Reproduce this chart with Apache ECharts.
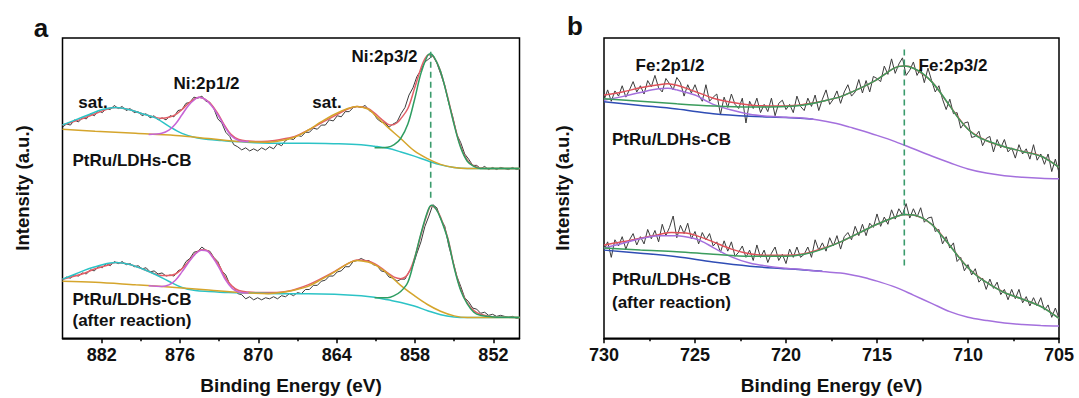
<!DOCTYPE html>
<html><head><meta charset="utf-8">
<script src="https://cdn.jsdelivr.net/npm/echarts@6/dist/echarts.min.js"></script>
<style>html,body{margin:0;padding:0;background:#fff}#c{width:1079px;height:398px}</style>
</head><body><div id="c"></div>
<script>
// ---------- axis ticks ----------
const aMajorTicks = [882, 876, 870, 864, 858, 852];
const aMinorTicks = [879, 873, 867, 861, 855];
const bMajorTicks = [730, 725, 720, 715, 710, 705];
const bMinorTicks = [727.5, 722.5, 717.5, 712.5, 707.5];

// ---------- panel a (Ni 2p) raw spectra: sampled from 885 eV downward every 0.305 eV ----------
const aRawStart = 885, aRawStep = 0.305;
const aUpRaw = [
210,213,212,217,215,219,218,223,221,226,
224,228,227,231,228,230,226,228,224,225,
221,223,219,221,217,219,217,221,220,226,
227,233,234,239,238,240,235,234,228,218,
214,205,201,193,191,188,190,187,189,187,
190,188,191,189,194,192,197,199,198,202,
201,205,205,209,208,212,212,217,216,221,
220,225,225,229,230,229,231,226,224,218,
215,214,210,213,215,223,229,241,248,259,
265,273,276,279,272,261,250,233,220,203,
195,184,179,173,173,170,172,169,171,169,
171,170,169,171,169,170];
const aLoRaw = [
62,65,64,67,66,69,68,72,71,75,
74,78,76,80,78,80,77,78,75,76,
73,74,70,71,68,69,66,67,66,71,
73,80,83,89,90,94,91,90,84,80,
71,67,58,55,49,48,44,46,43,45,
43,45,44,46,44,47,46,49,47,50,
49,53,53,57,57,61,62,66,66,70,
71,75,75,80,81,83,81,81,77,76,
71,70,65,64,61,63,63,70,76,88,
99,114,124,135,132,121,114,95,81,66,
56,45,41,35,34,30,31,28,29,27,
28,27,26,27,25,26];

// ---------- panel a fitted curves [energy, intensity] ----------
const aUpCyan = [[885,212],[884,217],[883,222],[881.95,227],[880.93,229],[879.92,227],[878.9,223],[877.89,219],[876.87,211],[875.85,204],[874.83,200],[873.82,198],[872.8,197],[871.79,196],[870.26,195],[868.23,194.5],[866.19,194.5],[864.16,194],[862.13,193],[861.11,191.5],[860.09,189.5],[859.08,186],[858.06,182],[857.04,177.5],[856.03,173.5],[855.01,171],[854,170],[851.96,170],[850,170]];
const aUpYellow = [[885,208],[882.5,206],[879.4,204],[876.35,202],[873.8,199],[871.3,196],[869.25,195.5],[868.25,197],[867.2,200.5],[866.2,207],[865.2,215],[864.15,222.5],[863.15,228],[862.45,230],[861.6,227.5],[861.1,222],[860.6,216],[860.1,210],[859.1,199],[858.05,187],[857.05,179.5],[856.05,174],[855,171],[854,170],[852,170],[850,170]];
const aUpMagenta = [[878.4,203],[877.4,204],[876.85,207],[876.35,213],[875.85,222],[875.35,231],[874.85,237],[874.55,239],[874.1,237],[873.6,231],[873.1,222],[872.6,211],[872.1,202],[871.5,197],[870.75,196]];
const aUpGreen = [[861.1,190],[860.1,190.5],[859.6,193],[859.1,199],[858.55,213],[858.05,236],[857.55,262],[857.05,279],[856.85,281],[856.55,278],[856.05,264],[855.5,238],[855,212],[854.5,190],[854,177],[853.5,172],[853,170],[852,170],[850,170]];
const aUpRed = [[885,212],[883.5,218],[882.5,223],[881.45,228],[880.95,229],[879.9,227],[878.9,223],[877.9,219.5],[877.4,218.5],[876.85,219.5],[876.35,222],[875.85,227],[875.35,233],[874.85,237.5],[874.55,239],[874.1,237],[873.6,232],[873.1,223],[872.6,212],[872.1,203],[871.5,198],[870.75,196.5],[869.75,196],[868.75,197],[867.7,199.5],[867.2,201],[866.2,207],[865.2,214],[864.15,221],[863.15,227.5],[862.45,230],[861.6,228],[861.1,223.5],[860.6,218],[860.1,213],[859.8,212],[859.4,214],[859.1,218],[858.55,228],[858.05,247],[857.55,267],[857.25,276],[856.95,280],[856.65,279],[856.35,273],[856.05,264],[855.5,239],[855,213],[854.5,191],[854,178],[853.5,172.5],[853,170.5],[852,170],[850,170]];

const aLoCyan = [[885,63],[884,68],[883,73],[881.95,77],[880.93,79],[879.92,77.5],[878.9,73],[877.89,67.5],[876.87,61],[875.85,55],[874.83,52],[873.82,51],[872.3,50],[870.26,49.5],[868.23,49],[866.19,49],[864.16,48.5],[862.13,47],[861.11,45.5],[860.09,43],[859.08,40.5],[858.06,37],[857.04,32.5],[856.03,28.5],[855.01,26.5],[854,26],[850,26]];
const aLoYellow = [[885,61],[882.5,60],[879.4,57.5],[876.35,55],[873.8,52.5],[871.3,50],[869.25,49],[868.25,50],[867.2,52.5],[866.2,56],[865.2,62.5],[864.15,70],[863.15,78],[862.45,81],[861.6,79.5],[861.1,77],[860.6,73],[860.1,68.5],[859.1,57],[858.05,47],[857.05,38.5],[856.05,32],[855,27.5],[854,26],[850,26]];
const aLoMagenta = [[878.4,56.5],[877.4,56],[876.85,57.5],[876.35,62],[875.85,70],[875.35,79],[874.85,87],[874.35,91],[873.9,90],[873.5,84],[873,74],[872.5,62],[872,54],[871.5,50.5],[870.75,49.5]];
const aLoGreen = [[861.1,45],[860.1,45],[859.6,47],[859.1,51],[858.55,60],[858.05,82],[857.55,107],[857.05,128],[856.75,134.5],[856.4,131],[856.05,122],[855.5,102],[855,74],[854.5,52],[854,39],[853.5,31],[853,28],[852,26.5],[850,26]];
const aLoRed = [[885,63],[883.5,68],[882.5,73],[881.45,77],[880.95,79],[879.9,77.5],[878.9,73],[877.9,68],[877.4,66.5],[876.85,66.5],[876.35,68],[875.85,73],[875.35,80],[874.85,87.5],[874.35,91.5],[873.9,90.5],[873.5,85],[873,76],[872.5,64],[872,56],[871.5,52],[870.75,50.5],[869.75,50],[868.75,50],[867.7,51.5],[867.2,53],[866.2,57.5],[865.2,63.5],[864.15,70.5],[863.15,78],[862.45,81.5],[861.6,80.5],[861.1,78],[860.6,74],[860.1,69],[859.6,65],[859.1,63.5],[858.55,68],[858.05,83],[857.55,106],[857.05,127],[856.75,134],[856.4,131],[856.05,123],[855.5,103],[855,75],[854.5,53],[854,40],[853.5,32.5],[853,29],[852,26.5],[850,26]];
const aPeakLine = [[856.8,283],[856.8,139]];

// ---------- panel b (Fe 2p) raw spectra: sampled from 730 eV downward every 0.2 eV ----------
const bRawStart = 730, bRawStep = 0.2;
const bUpRaw = [
238,248,237,247,242,252,241,248,256,246,
252,244,257,251,262,250,246,259,254,248,
260,255,242,253,245,253,243,237,253,237,
241,244,224,241,231,244,234,230,240,216,
237,230,240,226,234,227,240,223,235,238,
229,234,226,242,232,228,240,232,243,228,
239,248,234,239,247,235,246,253,242,246,
258,245,257,246,261,259,256,271,263,278,
264,273,279,262,267,275,262,269,255,269,
257,246,252,239,229,239,225,226,211,216,
217,202,203,208,194,201,203,188,200,192,
200,188,192,182,195,186,191,181,195,180,
186,176,186,169,181,168];
const bLoRaw = [
93,101,86,103,97,106,94,103,109,98,
106,99,113,104,112,101,118,107,115,126,
105,117,109,119,104,111,99,110,103,109,
97,101,91,102,92,101,87,91,97,86,
93,83,98,86,93,81,90,96,83,89,
80,94,86,96,86,89,96,86,103,93,
100,92,105,97,107,94,106,110,103,116,
107,118,107,119,115,128,116,125,118,132,
123,133,127,138,124,133,125,134,120,124,
125,111,113,99,106,95,100,82,86,73,
79,69,75,62,66,55,65,56,62,50,
55,45,55,46,55,42,48,39,47,39,
47,35,40,28,37,27];

// ---------- panel b fitted curves ----------
const bUpGreen = [[730,239.5],[728,237],[726,234.5],[724,232.5],[722,231.5],[720,232],[719,233.5],[718,237],[717,241.5],[716,249],[715,258],[714.5,264],[714,269.5],[713.5,271],[713,269],[712.5,264],[712,256],[711.5,245],[711,232.5],[710.5,220],[710,210],[709.5,203],[709,199],[708,193],[707,188.5],[706,184],[705.5,179],[705,173]];
const bUpRed = [[730,243],[729,246],[728,250],[727,253],[726.5,254],[726,252.5],[725,246.5],[724,240],[723,236],[722,233.5],[721,232.5],[720,232.5],[719,234],[718,237],[717,241.5],[716,249],[715,258],[714,269.5],[713.5,271],[713,269],[712,256],[711,232.5],[710,210],[709,199],[708,193],[707,188.5],[706,184],[705,173]];
const bUpPurple = [[730,238],[729,241.5],[728,245.5],[727,249],[726.5,249.5],[726,248],[725,243],[724.5,238.5],[724,234],[723,228.5],[722,224.5],[721,222.5],[720,221.5],[719,220.5],[718.5,219.5],[718,218.2],[717.5,216.5],[717,214.5],[716.5,212],[716,209.5],[715,204],[714,198],[713,191],[712,184],[711,177.5],[710,171.5],[709,167.5],[708,165],[707,163.5],[706,162.5],[705,162]];
const bUpBlue = [[730,236.5],[728,233],[726,229.5],[724,225],[722,222.5],[720,221.3],[719,220.4],[718.5,219.5]];

const bLoGreen = [[730,95],[728,93],[726,91.5],[724,89],[722,87],[720,87],[719,89],[718,94],[717,101],[716,109.5],[715,118],[714,125],[713.5,127.5],[713,127],[712.5,124],[712,118],[711.5,108],[711,97.5],[710.5,86],[710,76],[709.5,68],[709,62],[708,52],[707,45.5],[706,38.5],[705.5,33],[705,27]];
const bLoRed = [[730,98],[729,101],[728,104.5],[727,108],[726.3,110],[725.5,109.5],[725,107.5],[724,101],[723,94],[722,89.5],[721,88],[720,88],[719,89.5],[718,94.5],[717,101],[716,109.5],[715,118],[714,125],[713.5,127.5],[713,127],[712,118],[711,97.5],[710,76],[709,62],[708,52],[707,45.5],[706,38.5],[705,27]];
const bLoPurple = [[730,95],[729,99.5],[728,104],[727,107],[726,107],[725,104],[724.5,100.5],[724,95.5],[723,86.5],[722,80.5],[721,77.5],[720,75.5],[719,74],[718,72.3],[717,70.8],[716.5,69.5],[716,67.8],[715.5,65.5],[715,63],[714,57.2],[713,49.5],[712,41.5],[711,33.5],[710,28],[709,25],[708,22.5],[707,21],[706,20],[705,19.5]];
const bLoBlue = [[730,93],[728,90],[726,86.5],[724,81.5],[722,77.5],[720,75],[719,73.8],[718,72.5]];
const bPeakLine = [[713.5,287],[713.5,76.5]];

// ---------- build ----------
function sampled(start, step, vals) { return vals.map((v, i) => [+(start - step * i).toFixed(3), v]); }

const FONT = "'Liberation Sans', Arial, sans-serif";
const RAW = '#3b3b3b';
function ln(data, color, xi, yi, opt) {
  opt = opt || {};
  return {
    type: 'line', data: data, xAxisIndex: xi, yAxisIndex: yi,
    showSymbol: false, symbol: 'none', smooth: opt.smooth === undefined ? 0.35 : opt.smooth,
    lineStyle: { color: color, width: opt.width || 1.5, type: opt.type || 'solid' },
    silent: true, animation: false, z: opt.z || 2
  };
}

const series = [
  ln(sampled(aRawStart, aRawStep, aUpRaw), RAW, 0, 0, { smooth: false, width: 1 }),
  ln(sampled(aRawStart, aRawStep, aLoRaw), RAW, 0, 0, { smooth: false, width: 1 }),
  ln(aUpRed, '#e35f68', 0, 0), ln(aLoRed, '#e35f68', 0, 0),
  ln(aUpCyan, '#2cc3c6', 0, 0), ln(aLoCyan, '#2cc3c6', 0, 0),
  ln(aUpYellow, '#d5a52c', 0, 0), ln(aLoYellow, '#d5a52c', 0, 0),
  ln(aUpMagenta, '#c765d6', 0, 0), ln(aLoMagenta, '#c765d6', 0, 0),
  ln(aUpGreen, '#2f9d62', 0, 0), ln(aLoGreen, '#2f9d62', 0, 0),
  ln(aPeakLine, '#3a9b6c', 0, 0, { smooth: false, type: [6, 4], width: 1.6 }),

  ln(sampled(bRawStart, bRawStep, bUpRaw), RAW, 2, 1, { smooth: false, width: 1 }),
  ln(sampled(bRawStart, bRawStep, bLoRaw), RAW, 2, 1, { smooth: false, width: 1 }),
  ln(bUpRed, '#e0515a', 2, 1), ln(bLoRed, '#e0515a', 2, 1),
  ln(bUpBlue, '#2f4db5', 2, 1), ln(bLoBlue, '#2f4db5', 2, 1),
  ln(bUpPurple, '#a470dd', 2, 1), ln(bLoPurple, '#a470dd', 2, 1),
  ln(bUpGreen, '#3b9c5d', 2, 1), ln(bLoGreen, '#3b9c5d', 2, 1),
  ln(bPeakLine, '#3a9b6c', 2, 1, { smooth: false, type: [6, 4], width: 1.6 })
];

function mainX(grid, min, max, majors) {
  return {
    type: 'value', gridIndex: grid, min: min, max: max, inverse: true, position: 'bottom',
    axisLine: { show: true, onZero: false, lineStyle: { color: '#000', width: 1.5 } },
    axisTick: { show: true, inside: false, length: 5, customValues: majors, lineStyle: { color: '#000', width: 1.5 } },
    axisLabel: { show: true, customValues: majors, margin: 8, color: '#111', fontSize: 18, fontWeight: 'bold', fontFamily: FONT },
    splitLine: { show: false }
  };
}
function minorX(grid, min, max, minors) {
  return {
    type: 'value', gridIndex: grid, min: min, max: max, inverse: true, position: 'bottom',
    axisLine: { show: false, onZero: false },
    axisTick: { show: true, inside: false, length: 3, customValues: minors, lineStyle: { color: '#000', width: 1.5 } },
    axisLabel: { show: false }, splitLine: { show: false }
  };
}
function yAx(grid, min, max) {
  return { type: 'value', gridIndex: grid, min: min, max: max, show: true,
    axisLine: { show: false }, axisTick: { show: false }, axisLabel: { show: false }, splitLine: { show: false } };
}

function txt(s, x, y, opt) {
  opt = opt || {};
  return { type: 'text', x: x, y: y, rotation: opt.rot || 0, silent: true, z: 10,
    style: { text: s, fill: '#111', font: 'bold ' + (opt.size || 17) + 'px ' + FONT,
      textAlign: opt.align || 'center', textVerticalAlign: 'middle' } };
}

const chart = echarts.init(document.getElementById('c'), null, { renderer: 'svg' });
chart.setOption({
  animation: false,
  backgroundColor: '#fff',
  grid: [
    { left: 62.5, top: 38, width: 457, height: 300.3, show: true, borderColor: '#000', borderWidth: 1.5, backgroundColor: 'transparent' },
    { left: 604, top: 38, width: 455, height: 300.3, show: true, borderColor: '#000', borderWidth: 1.5, backgroundColor: 'transparent' }
  ],
  xAxis: [
    mainX(0, 850, 885, aMajorTicks), minorX(0, 850, 885, aMinorTicks),
    mainX(1, 705, 730, bMajorTicks), minorX(1, 705, 730, bMinorTicks)
  ],
  yAxis: [ yAx(0, 5.8, 296.2), yAx(1, 7.7, 298.2) ],
  series: series,
  graphic: [
    txt('a', 41, 28, { size: 26 }),
    txt('b', 575, 26, { size: 26 }),
    txt('Intensity (a.u.)', 22.5, 188, { rot: Math.PI / 2, size: 18.5 }),
    txt('Intensity (a.u.)', 562.5, 188, { rot: Math.PI / 2, size: 18.5 }),
    txt('Binding Energy (eV)', 291, 385, { size: 19 }),
    txt('Binding Energy (eV)', 831.5, 385, { size: 19 }),
    txt('sat.', 93, 102),
    txt('Ni:2p1/2', 206.5, 83.5),
    txt('sat.', 327, 102),
    txt('Ni:2p3/2', 384.5, 56),
    txt('PtRu/LDHs-CB', 72.5, 160, { align: 'left' }),
    txt('PtRu/LDHs-CB', 72.5, 299, { align: 'left' }),
    txt('(after reaction)', 72.5, 320.5, { align: 'left' }),
    txt('Fe:2p1/2', 670, 65),
    txt('Fe:2p3/2', 953, 65),
    txt('PtRu/LDHs-CB', 612, 139, { align: 'left' }),
    txt('PtRu/LDHs-CB', 612, 279, { align: 'left' }),
    txt('(after reaction)', 612, 302, { align: 'left' })
  ]
});
</script></body></html>
